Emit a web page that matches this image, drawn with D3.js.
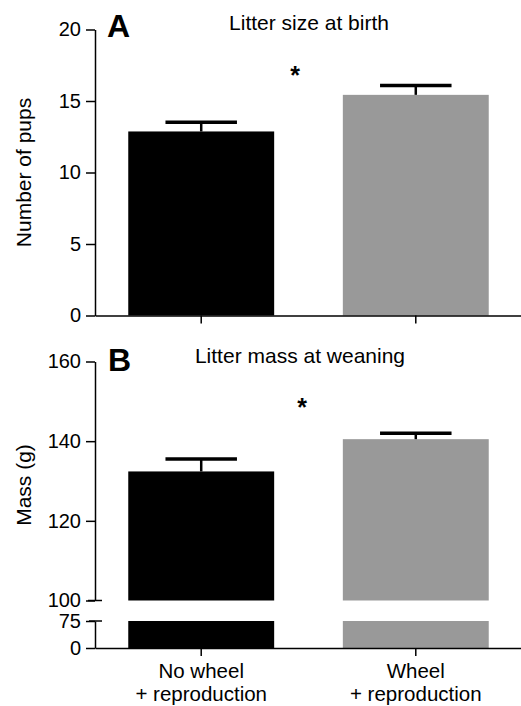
<!DOCTYPE html>
<html>
<head>
<meta charset="utf-8">
<script src="https://cdn.jsdelivr.net/npm/d3@7"></script>
<style>
  body { margin: 0; background: #fff; }
  text { font-family: "Liberation Sans", Arial, sans-serif; fill: #000; }
</style>
</head>
<body>
<div id="chart"></div>
<script>
var categories = ["No wheel", "Wheel"],
  categoryLines = [["No wheel", "+ reproduction"], ["Wheel", "+ reproduction"]],
  barColors = ["#000000", "#999999"];

// panel A: litter size at birth
var sizeMean = [12.87, 15.43],
  sizeSem = [0.65, 0.65],
  sizeTicks = [0, 5, 10, 15, 20];

// panel B: litter mass at weaning (broken axis)
var massMean = [132.4, 140.5],
  massSem = [3.1, 1.5],
  massTicksUpper = [100, 120, 140, 160],
  massTicksLower = [0, 75];

var w = 521, h = 706;

var svg = d3.select("#chart").append("svg")
  .attr("width", w)
  .attr("height", h);

var x = d3.scaleBand()
  .domain(categories)
  .range([95, 522])
  .paddingInner(0.32)
  .paddingOuter(0.155);

var yA = d3.scaleLinear().domain([0, 20]).range([315.5, 29.5]);
var yBU = d3.scaleLinear().domain([100, 160]).range([600.5, 361.5]);
var yBL = d3.scaleLinear().domain([0, 75]).range([648, 621]);

var axisX0 = 95;

function styleAxis(g) {
  g.selectAll("path, line").attr("stroke", "#000").attr("stroke-width", 1.5);
  g.selectAll("text").style("font-size", "20px").attr("fill", "#000");
}

// ---------- panel A ----------
var gA = svg.append("g");

gA.selectAll("rect.bar")
  .data(categories)
  .enter().append("rect")
  .attr("class", "bar")
  .attr("x", function (d) { return x(d); })
  .attr("width", x.bandwidth())
  .attr("y", function (d, i) { return yA(sizeMean[i]); })
  .attr("height", function (d, i) { return yA(0) - yA(sizeMean[i]); })
  .attr("fill", function (d, i) { return barColors[i]; });

drawErr(gA, sizeMean, sizeSem, yA);

gA.append("g")
  .attr("transform", "translate(" + axisX0 + ",0)")
  .call(d3.axisLeft(yA).tickValues(sizeTicks).tickSize(9).tickSizeOuter(0).tickPadding(5))
  .call(styleAxis);

gA.append("g")
  .attr("transform", "translate(0," + yA(0) + ")")
  .call(d3.axisBottom(x).tickSize(8).tickSizeOuter(0).tickFormat(""))
  .call(styleAxis);

gA.append("text").attr("x", 107).attr("y", 37)
  .style("font-size", "32px").style("font-weight", "bold").text("A");
gA.append("text").attr("x", 309).attr("y", 30).attr("text-anchor", "middle")
  .style("font-size", "21px").text("Litter size at birth");
gA.append("text").attr("x", 295).attr("y", yA(16.2)).attr("text-anchor", "middle")
  .style("font-size", "25px").style("font-weight", "bold").text("*");
gA.append("text")
  .attr("transform", "translate(31," + ((yA(0) + yA(20)) / 2) + ") rotate(-90)")
  .attr("text-anchor", "middle")
  .style("font-size", "21px").text("Number of pups");

// ---------- panel B ----------
var gB = svg.append("g");

// upper part of bars (100 up to mean)
gB.selectAll("rect.upper")
  .data(categories)
  .enter().append("rect")
  .attr("class", "upper")
  .attr("x", function (d) { return x(d); })
  .attr("width", x.bandwidth())
  .attr("y", function (d, i) { return yBU(massMean[i]); })
  .attr("height", function (d, i) { return yBU(100) - yBU(massMean[i]); })
  .attr("fill", function (d, i) { return barColors[i]; });

// lower part of bars (0 to 75)
gB.selectAll("rect.lower")
  .data(categories)
  .enter().append("rect")
  .attr("class", "lower")
  .attr("x", function (d) { return x(d); })
  .attr("width", x.bandwidth())
  .attr("y", yBL(75))
  .attr("height", yBL(0) - yBL(75))
  .attr("fill", function (d, i) { return barColors[i]; });

drawErr(gB, massMean, massSem, yBU);

gB.append("g")
  .attr("transform", "translate(" + axisX0 + ",0)")
  .call(d3.axisLeft(yBU).tickValues(massTicksUpper).tickSize(9).tickSizeOuter(0).tickPadding(5))
  .call(styleAxis);

gB.append("g")
  .attr("transform", "translate(" + axisX0 + ",0)")
  .call(d3.axisLeft(yBL).tickValues(massTicksLower).tickSize(9).tickSizeOuter(0).tickPadding(5))
  .call(styleAxis);

// break marks: ticks crossing the axis at 100 and 75
gB.append("line")
  .attr("x1", axisX0 - 7).attr("x2", axisX0 + 7)
  .attr("y1", yBU(100)).attr("y2", yBU(100))
  .attr("stroke", "#000").attr("stroke-width", 1.5);
gB.append("line")
  .attr("x1", axisX0 - 6).attr("x2", axisX0 + 7)
  .attr("y1", yBL(75)).attr("y2", yBL(75))
  .attr("stroke", "#000").attr("stroke-width", 1.5);

gB.append("g")
  .attr("transform", "translate(0," + yBL(0) + ")")
  .call(d3.axisBottom(x).tickSize(8).tickSizeOuter(0).tickFormat(""))
  .call(styleAxis);

// category labels, two lines each
categories.forEach(function (d, i) {
  categoryLines[i].forEach(function (line, j) {
    gB.append("text")
      .attr("class", "cat")
      .attr("text-anchor", "middle")
      .attr("x", x(d) + x.bandwidth() / 2)
      .attr("y", 678 + j * 23)
      .style("font-size", "20.5px")
      .text(line);
  });
});

gB.append("text").attr("x", 108).attr("y", 371)
  .style("font-size", "32px").style("font-weight", "bold").text("B");
gB.append("text").attr("x", 300).attr("y", 363).attr("text-anchor", "middle")
  .style("font-size", "21px").text("Litter mass at weaning");
gB.append("text").attr("x", 302).attr("y", yBU(146.4)).attr("text-anchor", "middle")
  .style("font-size", "25px").style("font-weight", "bold").text("*");
gB.append("text")
  .attr("transform", "translate(31," + ((yBU(100) + yBU(160)) / 2 + 4) + ") rotate(-90)")
  .attr("text-anchor", "middle")
  .style("font-size", "21px").text("Mass (g)");

// error bars (upper only)
function drawErr(g, mean, sem, y) {
  var cap = x.bandwidth() * 0.49;
  categories.forEach(function (d, i) {
    var cx = x(d) + x.bandwidth() / 2;
    g.append("line")
      .attr("x1", cx).attr("x2", cx)
      .attr("y1", y(mean[i])).attr("y2", y(mean[i] + sem[i]))
      .attr("stroke", "#000").attr("stroke-width", 2.5);
    g.append("line")
      .attr("x1", cx - cap / 2).attr("x2", cx + cap / 2)
      .attr("y1", y(mean[i] + sem[i])).attr("y2", y(mean[i] + sem[i]))
      .attr("stroke", "#000").attr("stroke-width", 3.5);
  });
}
</script>
</body>
</html>
